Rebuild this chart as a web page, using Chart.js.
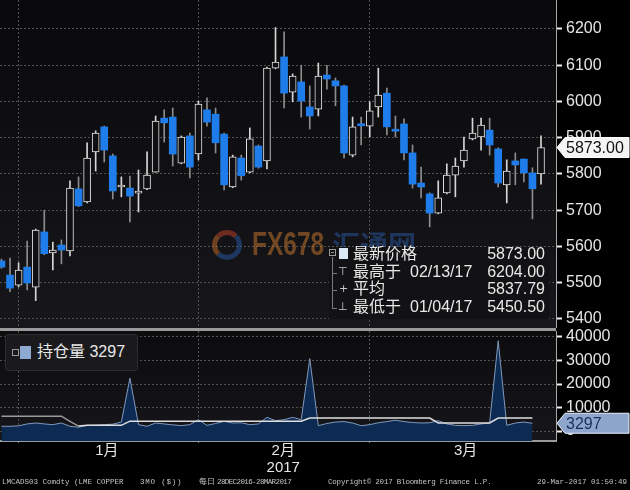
<!DOCTYPE html>
<html>
<head>
<meta charset="utf-8">
<title>LME Copper 3M</title>
<script src="https://cdn.jsdelivr.net/npm/chart.js@4.4.1/dist/chart.umd.min.js"></script>
<style>
  body { margin: 0; width: 630px; height: 490px; background: #000; overflow: hidden; position: relative;
         font-family: "Liberation Sans", "Noto Sans CJK SC", sans-serif; color: #e8e8e8; }
  .abs { position: absolute; }
  #bgTop { left: 0; top: 0; width: 556px; height: 328px; background: linear-gradient(#09090b, #17171b); }
  #sep { left: 0; top: 328px; width: 556px; height: 3px; background: #9a9a9a; }
  #bgBot { left: 0; top: 331px; width: 556px; height: 110px; background: linear-gradient(#0c0c0f, #16161a); }
  #cTop { left: 0; top: 0; }
  #cBot { left: 0; top: 316px; }
  .lg { font-size: 16px; line-height: 18px; white-space: nowrap; }
  .ft { font-family: "Liberation Mono", monospace; font-size: 7.5px; line-height: 9px; color: #c4c4c4; white-space: pre; top: 478px; }
</style>
</head>
<body>
<div id="bgTop" class="abs"></div>
<div id="sep" class="abs"></div>
<div id="bgBot" class="abs"></div>
<canvas id="cTop" class="abs" width="630" height="328"></canvas>
<canvas id="cBot" class="abs" width="630" height="162"></canvas>

<!-- watermark -->
<div class="abs" style="left:212px;top:230px;width:20px;height:20px;border-radius:50%;border:5px solid;border-color:rgba(200,70,40,.5) rgba(40,90,170,.5) rgba(40,90,170,.5) rgba(200,110,40,.5);"></div>
<div class="abs" style="left:252px;top:224px;font:bold 34px 'Liberation Sans';color:rgba(190,115,45,.55);transform:scaleX(0.72);transform-origin:left top;">FX678</div>
<div class="abs" style="left:332px;top:224px;font:bold 28px 'Noto Sans CJK SC';color:rgba(45,95,180,.45);">汇通网</div>

<!-- price legend -->
<div class="abs" style="left:329px;top:247px;width:220px;height:72px;background:#121215;"></div>
<div class="abs" style="left:329px;top:249px;width:5px;height:5px;border:1px solid #9a9a9a;"></div>
<div class="abs" style="left:331px;top:252px;width:3px;height:1px;background:#9a9a9a;"></div>
<div class="abs" style="left:332px;top:257px;width:1px;height:51px;background:#7a7a7a;"></div>
<div class="abs" style="left:332px;top:273px;width:5px;height:1px;background:#7a7a7a;"></div>
<div class="abs" style="left:332px;top:290px;width:5px;height:1px;background:#7a7a7a;"></div>
<div class="abs" style="left:332px;top:308px;width:5px;height:1px;background:#7a7a7a;"></div>
<div class="abs" style="left:339px;top:248px;width:9px;height:11px;background:#dde6f4;"></div>
<div class="abs" style="left:338px;top:265px;font:11px 'DejaVu Sans';color:#c8c8c8;">⊤</div>
<div class="abs" style="left:339px;top:282px;font:11px 'DejaVu Sans';color:#c8c8c8;">+</div>
<div class="abs" style="left:338px;top:300px;font:11px 'DejaVu Sans';color:#c8c8c8;">⊥</div>
<div id="legend"></div>

<!-- open interest legend -->
<div class="abs" style="left:5px;top:334px;width:131px;height:35px;background:#1a1a1d;border:1px solid #2c2c30;border-radius:3px;"></div>
<div class="abs" style="left:12px;top:349px;width:5px;height:5px;border:1px solid #9a9a9a;"></div>
<div class="abs" style="left:20px;top:346px;width:11px;height:13px;background:#8eaad3;"></div>
<div id="oiLegend" class="abs lg" style="left:37px;top:343px;"></div>

<!-- footer -->
<div class="abs ft" style="left:2px">LMCADS03 Comdty (LME COPPER</div>
<div class="abs ft" style="left:140px;letter-spacing:0.8px">3MO ($))</div>
<div class="abs ft" style="left:199px">每日</div>
<div class="abs ft" style="left:217px;letter-spacing:-0.6px">28DEC2016-28MAR2017</div>
<div class="abs ft" style="left:328px;letter-spacing:-0.2px">Copyright© 2017 Bloomberg Finance L.P.</div>
<div class="abs ft" style="left:537px">29-Mar-2017 01:50:49</div>

<script>
// trading days shown on the chart
var dates = ['12/28/16', '12/29/16', '12/30/16', '01/03/17', '01/04/17', '01/05/17', '01/06/17', '01/09/17',
    '01/10/17', '01/11/17', '01/12/17', '01/13/17', '01/16/17', '01/17/17', '01/18/17', '01/19/17', '01/20/17',
    '01/23/17', '01/24/17', '01/25/17', '01/26/17', '01/27/17', '01/30/17', '01/31/17',
    '02/01/17', '02/02/17', '02/03/17', '02/06/17', '02/07/17', '02/08/17', '02/09/17', '02/10/17', '02/13/17',
    '02/14/17', '02/15/17', '02/16/17', '02/17/17', '02/20/17', '02/21/17', '02/22/17', '02/23/17', '02/24/17',
    '02/27/17', '02/28/17',
    '03/01/17', '03/02/17', '03/03/17', '03/06/17', '03/07/17', '03/08/17', '03/09/17', '03/10/17', '03/13/17',
    '03/14/17', '03/15/17', '03/16/17', '03/17/17', '03/20/17', '03/21/17', '03/22/17', '03/23/17', '03/24/17',
    '03/27/17', '03/28/17'];

var opens = [5560, 5521, 5493, 5543, 5488, 5640, 5582, 5604, 5588, 5759, 5723, 5861, 5930, 5850, 5764, 5761,
    5747, 5759, 5805, 5954, 5957, 5830, 5905, 5855, 5977, 5965, 5910, 5764, 5844, 5805, 5877, 5836,
    6092, 6123, 6026, 6054, 5985, 5979, 6073, 6057, 6043, 5852, 5935, 5932, 5985, 6023, 5920, 5938,
    5858, 5775, 5745, 5692, 5748, 5797, 5836, 5897, 5902, 5921, 5869, 5770, 5836, 5841, 5803, 5800];
var highs = [5565, 5568, 5555, 5615, 5648, 5700, 5612, 5618, 5781, 5792, 5886, 5919, 5932, 5855, 5792, 5794,
    5811, 5861, 5960, 5977, 5982, 5905, 5913, 6001, 6010, 5982, 5913, 5852, 5852, 5927, 5880, 6095,
    6204, 6192, 6076, 6100, 6043, 6106, 6100, 6065, 6045, 5957, 5957, 5999, 6092, 6037, 5960, 5952,
    5880, 5819, 5748, 5781, 5828, 5844, 5902, 5954, 5954, 5954, 5872, 5839, 5858, 5841, 5817, 5905];
var lows = [5540, 5475, 5488, 5480, 5450.5, 5577, 5535, 5552, 5574, 5710, 5720, 5808, 5833, 5731, 5737, 5668,
    5695, 5757, 5805, 5888, 5822, 5828, 5789, 5839, 5932, 5858, 5756, 5762, 5783, 5803, 5816, 5814,
    6090, 5982, 5999, 5957, 5924, 5960, 6034, 5988, 5844, 5847, 5880, 5902, 5957, 5908, 5902, 5839,
    5761, 5734, 5654, 5690, 5745, 5737, 5819, 5894, 5866, 5852, 5764, 5720, 5770, 5778, 5676, 5772];
var closes = [5543, 5485, 5535, 5499, 5645, 5580, 5590, 5590, 5761, 5712, 5844, 5913, 5866, 5753, 5769, 5739,
    5749, 5797, 5946, 5941, 5855, 5902, 5819, 5993, 5943, 5886, 5770, 5847, 5795, 5897, 5819, 6092,
    6109, 6023, 6070, 6001, 5960, 6070, 6062, 6043, 5858, 5930, 5933, 5974, 6018, 5930, 5918, 5858,
    5772, 5764, 5692, 5734, 5797, 5822, 5866, 5913, 5935, 5880, 5775, 5808, 5825, 5803, 5759, 5873];

// open interest, 12/28/16 .. 03/27/17
var openInterest = [2000, 2000, 2200, 3000, 3400, 3000, 2700, 3400, 2000, 1600,
    2400, 2500, 2700, 2900, 3800, 22500, 2700, 2000, 3400, 3000,
    2600, 2300, 2700, 4800, 2400, 3200, 4100, 3400, 3500, 2700,
    3000, 5800, 4400, 4800, 5800, 4800, 30800, 2250, 3200, 3800,
    4000, 3400, 2250, 2700, 3500, 4000, 4600, 4000, 3600, 3400,
    3500, 4400, 3000, 2400, 2300, 2400, 3000, 3400, 38400, 2400,
    3400, 3800, 3297];
// reference lines in the lower panel
var oiGray = [6300, 6300, 6300, 6300, 6300, 6300, 6300, 6300, 4100, 2100];          // days 1-10
var oiWhite = [2100, 2400, 2400, 2400, 2400, 2400,                                   // days 10-15
    4200, 4200, 4200, 4200, 4200, 4200, 4200, 4200, 4200, 4200, 4200, 4200, 4200, 4200, 4200, 4200,
    4200, 4200, 4200, 4200, 4200,                                                    // days 16-36
    5500, 5500, 5500, 5500, 5500, 5500, 5500, 5500, 5500, 5500, 5500, 5500, 5500, 5500, 5500, // 37-51
    3400, 3400, 3400, 3400, 3400, 3400, 3400,                                        // 52-58
    5500, 5500, 5500, 5500, 5500];                                                   // 59-63

var priceTicks = [5400, 5450, 5500, 5550, 5600, 5650, 5700, 5750, 5800, 5850, 5900, 5950, 6000, 6050, 6100, 6150, 6200];
var oiTicks = [0, 10000, 20000, 30000, 40000];
var monthEnds = [3, 24, 44];
var monthTicks = [13.3, 33.9, 55.2];
var monthLabels = ['1月', ['2月', '2017'], '3月'];
var avgText = '5837.79';

var upFill = '#101013', upLine = '#e2e2e2', downFill = '#1e7deb';
var upWick = '#d6d6d6', downWick = '#8c8c8c';
var gridCol = '#525252';

Chart.defaults.font.family = '"Liberation Sans", "Noto Sans CJK SC", sans-serif';

// tag on the right axis showing the last value
var tagPlugin = {
    id: 'tag',
    afterDraw: function (chart, args, opts) {
        var ctx = chart.ctx, a = chart.chartArea;
        var y = chart.scales.y.getPixelForValue(opts.value);
        var x0 = a.right + 1, x1 = x0 + 8, x2 = chart.width - 1;
        ctx.save();
        ctx.beginPath();
        ctx.moveTo(x0, y);
        ctx.lineTo(x1, y - 10);
        ctx.lineTo(x2, y - 10);
        ctx.lineTo(x2, y + 10);
        ctx.lineTo(x1, y + 10);
        ctx.closePath();
        ctx.fillStyle = opts.bg;
        ctx.fill();
        ctx.strokeStyle = opts.border;
        ctx.lineWidth = 1;
        ctx.stroke();
        ctx.fillStyle = opts.color;
        ctx.font = '16px "Liberation Sans"';
        ctx.textBaseline = 'middle';
        ctx.fillText(opts.text, x1 + 1, y + 1);
        ctx.restore();
    }
};

var isUp = dates.map(function (d, i) { return closes[i] > opens[i]; });
var bodies = dates.map(function (d, i) { return { x: i + 1, y: [opens[i], closes[i]] }; });
var wicks = dates.map(function (d, i) { return { x: i + 1, y: [lows[i], highs[i]] }; });

var xMin = 0.83, xMax = 65.75;

var topChart = new Chart(document.getElementById('cTop'), {
    type: 'bar',
    data: {
        datasets: [{
            label: 'body',
            data: bodies,
            order: 0,
            grouped: false,
            barThickness: 7,
            maxBarThickness: 7,
            minBarLength: 2,
            borderSkipped: false,
            backgroundColor: isUp.map(function (u) { return u ? upFill : downFill; }),
            borderColor: isUp.map(function (u) { return u ? upLine : downFill; }),
            borderWidth: isUp.map(function (u) { return u ? 1 : 0; })
        }, {
            label: 'wick',
            data: wicks,
            order: 1,
            grouped: false,
            barThickness: 1,
            maxBarThickness: 1,
            backgroundColor: isUp.map(function (u) { return u ? upWick : downWick; })
        }]
    },
    options: {
        responsive: false,
        animation: false,
        layout: { padding: 0 },
        plugins: {
            legend: { display: false },
            tooltip: { enabled: false },
            tag: { value: closes[closes.length - 1], text: closes[closes.length - 1].toFixed(2),
                   bg: '#f4f4f4', border: '#ffffff', color: '#111111' }
        },
        scales: {
            x: {
                type: 'linear', min: xMin, max: xMax, offset: false,
                afterBuildTicks: function (s) { s.ticks = monthEnds.map(function (v) { return { value: v }; }); },
                ticks: { display: false },
                grid: { offset: false, color: gridCol, drawTicks: false },
                border: { display: false, dash: [2, 2] },
                afterFit: function (s) { s.height = 0; }
            },
            y: {
                position: 'right', min: 5375, max: 6280,
                afterBuildTicks: function (s) { s.ticks = priceTicks.map(function (v) { return { value: v }; }); },
                ticks: {
                    color: '#e6e6e6', font: { size: 16 }, padding: 4,
                    callback: function (v) { return v % 100 === 0 ? String(v) : ''; }
                },
                grid: {
                    color: function (c) { return c.tick && c.tick.value % 100 === 0 ? gridCol : 'rgba(0,0,0,0)'; },
                    tickColor: function (c) { return c.tick && c.tick.value % 100 === 0 ? '#f0f0f0' : '#8a8a8a'; },
                    tickWidth: 2,
                    tickLength: 6
                },
                border: { display: true, color: '#a8a8a8', width: 1, dash: [2, 2] },
                afterFit: function (s) { s.width = 74; s.paddingTop = 0; s.paddingBottom = 0; }
            }
        }
    },
    plugins: [tagPlugin]
});

function pts(values, firstDay) {
    return values.map(function (v, i) { return { x: firstDay + i, y: v }; });
}

var botChart = new Chart(document.getElementById('cBot'), {
    type: 'line',
    data: {
        datasets: [{
            label: '持仓量',
            data: pts(openInterest, 1),
            borderColor: '#8299bd',
            borderWidth: 1,
            backgroundColor: '#0c2a52',
            fill: 'start',
            pointRadius: 0,
            order: 2
        }, {
            label: 'gray',
            data: pts(oiGray, 1),
            borderColor: '#9a9a9a',
            borderWidth: 1.5,
            pointRadius: 0,
            fill: false,
            order: 1
        }, {
            label: 'white',
            data: pts(oiWhite, 10),
            borderColor: '#dedede',
            borderWidth: 1.5,
            pointRadius: 0,
            fill: false,
            order: 0
        }]
    },
    options: {
        responsive: false,
        animation: false,
        layout: { padding: { top: 15, left: 0, right: 0, bottom: 0 } },
        plugins: {
            legend: { display: false },
            tooltip: { enabled: false },
            tag: { value: openInterest[openInterest.length - 1], text: String(openInterest[openInterest.length - 1]),
                   bg: '#8ea6cc', border: '#e8eef8', color: '#16305c' }
        },
        scales: {
            x: {
                type: 'linear', min: xMin, max: xMax,
                afterBuildTicks: function (s) {
                    s.ticks = monthEnds.concat(monthTicks).sort(function (a, b) { return a - b; })
                        .map(function (v) { return { value: v }; });
                },
                ticks: {
                    autoSkip: false, maxRotation: 0, color: '#e6e6e6', padding: 0,
                    font: { size: 15, lineHeight: 1.1 },
                    callback: function (v) { var k = monthTicks.indexOf(v); return k >= 0 ? monthLabels[k] : ''; }
                },
                grid: {
                    color: function (c) { return c.tick && monthEnds.indexOf(c.tick.value) >= 0 ? gridCol : 'rgba(0,0,0,0)'; },
                    tickColor: function (c) { return c.tick && monthEnds.indexOf(c.tick.value) >= 0 ? '#777' : 'rgba(0,0,0,0)'; },
                    tickLength: 2
                },
                border: { display: true, color: '#9a9a9a', width: 2, dash: [2, 2] },
                afterFit: function (s) { s.height = 37; s.paddingLeft = 0; s.paddingRight = 0; }
            },
            y: {
                position: 'right', min: -4255, max: 42553,
                afterBuildTicks: function (s) { s.ticks = oiTicks.map(function (v) { return { value: v }; }); },
                ticks: { color: '#e6e6e6', font: { size: 16 }, padding: 4, callback: function (v) { return String(v); } },
                grid: { color: gridCol, tickColor: '#f0f0f0', tickWidth: 2, tickLength: 6 },
                border: { display: true, color: '#a8a8a8', width: 1, dash: [2, 2] },
                afterFit: function (s) { s.width = 74; s.paddingTop = 0; s.paddingBottom = 0; }
            }
        }
    },
    plugins: [tagPlugin]
});

// legend rows for the price panel
var latest = closes[closes.length - 1];
var hiVal = Math.max.apply(null, highs), hiIdx = highs.indexOf(hiVal);
var loVal = Math.min.apply(null, lows), loIdx = lows.indexOf(loVal);
var legendRows = [
    ['最新价格', '', latest.toFixed(2)],
    ['最高于', dates[hiIdx], hiVal.toFixed(2)],
    ['平均', '', avgText],
    ['最低于', dates[loIdx], loVal.toFixed(2)]
];
var html = '';
legendRows.forEach(function (r, k) {
    var top = Math.round(245 + k * 17.6);
    html += '<div class="abs lg" style="left:353px;top:' + top + 'px">' + r[0] + '</div>';
    if (r[1]) html += '<div class="abs lg" style="left:410px;top:' + top + 'px">' + r[1] + '</div>';
    html += '<div class="abs lg" style="left:470px;width:75px;text-align:right;top:' + top + 'px">' + r[2] + '</div>';
});
document.getElementById('legend').innerHTML = html;
document.getElementById('oiLegend').textContent = '持仓量 ' + openInterest[openInterest.length - 1];
</script>
</body>
</html>
